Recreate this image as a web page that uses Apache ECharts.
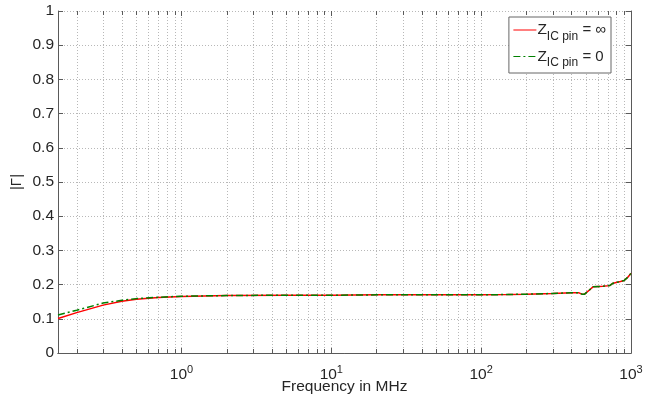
<!DOCTYPE html>
<html>
<head>
<meta charset="utf-8">
<script src="https://cdn.jsdelivr.net/npm/echarts@6/dist/echarts.min.js"></script>
<style>
  html, body { margin: 0; padding: 0; background: #fff; }
  #chart { width: 657px; height: 399px; }
</style>
</head>
<body>
<div id="chart"></div>
<script>
// Frequency samples (MHz) and reflection magnitude |Γ| for both pin terminations
const freqMHz = [0.15, 0.2, 0.3, 0.4, 0.5, 0.7, 1, 2, 5, 10, 20, 50, 100, 150, 200, 300, 400, 450, 470, 490, 540, 560, 650, 720, 760, 850, 900, 950, 1000];
const gammaOpen = [0.101, 0.118, 0.140, 0.151, 0.157, 0.162, 0.165, 0.168, 0.169, 0.169, 0.170, 0.170, 0.170, 0.171, 0.172, 0.174, 0.176, 0.176, 0.172, 0.172, 0.188, 0.194, 0.195, 0.197, 0.204, 0.209, 0.212, 0.221, 0.233];
const gammaShort = [0.111, 0.125, 0.146, 0.154, 0.159, 0.163, 0.166, 0.168, 0.169, 0.169, 0.170, 0.170, 0.170, 0.171, 0.172, 0.174, 0.176, 0.176, 0.172, 0.172, 0.188, 0.194, 0.195, 0.197, 0.204, 0.209, 0.212, 0.221, 0.233];

// Log-axis grid positions (major decades and minor steps)
const majorX = [1, 10, 100, 1000];
const minorX = [0.2, 0.3, 0.4, 0.5, 0.6, 0.7, 0.8, 0.9,
  2, 3, 4, 5, 6, 7, 8, 9,
  20, 30, 40, 50, 60, 70, 80, 90,
  200, 300, 400, 500, 600, 700, 800, 900];
const yTicks = [0, 0.1, 0.2, 0.3, 0.4, 0.5, 0.6, 0.7, 0.8, 0.9, 1];

const seriesNames = ['open', 'short'];
const FONT = '"Liberation Sans", Arial, sans-serif';
const AXIS = '#5a5a5a';
const TEXT = '#262626';

const chart = echarts.init(document.getElementById('chart'), null, { renderer: 'canvas' });

const gridMarks = majorX.map(v => [v, 1]).concat(minorX.map(v => [v, 0]));

// Dotted vertical grid line plus inward ticks on the bottom and top edges
function renderGridMark(params, api) {
  const cs = params.coordSys;
  const v = api.value(0);
  const isMajor = api.value(1) === 1;
  const x = Math.round(api.coord([v, 0])[0]) + 0.5;
  const top = cs.y, bottom = cs.y + cs.height;
  const tickLen = isMajor ? 5 : 4;
  const children = [];
  if (x < cs.x + cs.width - 1) {
    children.push({
      type: 'line', silent: true,
      shape: { x1: x, y1: top, x2: x, y2: bottom },
      style: { stroke: '#b8b8b8', lineWidth: 1, lineDash: [1, 2] }
    });
  }
  children.push({ type: 'line', silent: true, shape: { x1: x, y1: bottom, x2: x, y2: bottom - tickLen }, style: { stroke: AXIS, lineWidth: 1 } });
  children.push({ type: 'line', silent: true, shape: { x1: x, y1: top, x2: x, y2: top + tickLen }, style: { stroke: AXIS, lineWidth: 1 } });
  return { type: 'group', children };
}

function decadeLabel(value) {
  const l = Math.log10(value);
  if (Math.abs(l - Math.round(l)) < 1e-6) {
    return '{b|10}{e|' + Math.round(l) + '}';
  }
  return '';
}

const option = {
  animation: false,
  backgroundColor: '#fff',
  textStyle: { fontFamily: FONT },
  grid: { left: 58, right: 26, top: 11, bottom: 46, containLabel: false, outerBoundsMode: 'none' },
  legend: {
    data: [seriesNames[0], seriesNames[1]],
    orient: 'vertical',
    right: 46,
    top: 17,
    itemWidth: 23,
    itemHeight: 6,
    itemGap: 6,
    padding: [5, 5, 4, 4],
    backgroundColor: '#fff',
    borderColor: '#666',
    borderWidth: 1,
    borderRadius: 0,
    selectedMode: false,
    itemStyle: { opacity: 0 },
    lineStyle: { width: 1 },
    formatter: function (name) {
      const rhs = name === 'open' ? '∞' : '0';
      return '{z|Z}{s|IC pin}{q| = ' + rhs + '}';
    },
    textStyle: {
      fontFamily: FONT,
      color: TEXT,
      padding: [0, 0, 0, -4],
      rich: {
        z: { fontSize: 15.5, fontFamily: FONT, color: TEXT },
        s: { fontSize: 12, fontFamily: FONT, color: TEXT, padding: [13, 0, 0, 0] },
        q: { fontSize: 15, fontFamily: FONT, color: TEXT }
      }
    }
  },
  xAxis: [{
    type: 'log',
    logBase: 10,
    min: 0.15,
    max: 1000,
    name: 'Frequency in MHz',
    nameLocation: 'middle',
    nameGap: 26,
    nameMoveOverlap: false,
    nameTextStyle: { fontSize: 15.5, color: TEXT, fontFamily: FONT },
    axisLine: { show: true, lineStyle: { color: AXIS, width: 1 } },
    axisTick: { show: false },
    splitLine: { show: false },
    minorTick: { show: false },
    axisLabel: {
      margin: 11,
      showMinLabel: false,
      formatter: decadeLabel,
      rich: {
        b: { fontSize: 15.5, fontFamily: FONT, color: TEXT },
        e: { fontSize: 11, fontFamily: FONT, color: TEXT, padding: [0, 0, 11, 0] }
      }
    }
  }, {
    type: 'log',
    logBase: 10,
    min: 0.15,
    max: 1000,
    position: 'top',
    axisLine: { show: true, lineStyle: { color: AXIS, width: 1 } },
    axisTick: { show: false },
    axisLabel: { show: false },
    splitLine: { show: false }
  }],
  yAxis: [{
    type: 'value',
    min: 0,
    max: 1,
    interval: 0.1,
    name: '|Γ|',
    nameLocation: 'middle',
    nameGap: 34,
    nameMoveOverlap: false,
    nameTextStyle: { fontSize: 15, color: TEXT, fontFamily: FONT },
    axisLine: { show: true, lineStyle: { color: AXIS, width: 1 } },
    axisTick: { show: true, inside: true, length: 5, lineStyle: { color: AXIS } },
    splitLine: { show: true, lineStyle: { color: '#b8b8b8', type: [1, 2], width: 1 } },
    axisLabel: {
      fontSize: 15.5, color: TEXT, fontFamily: FONT, margin: 4,
      formatter: v => {
        const r = Math.round(v * 10) / 10;
        return yTicks.some(t => Math.abs(t - r) < 1e-9) ? String(r) : '';
      }
    }
  }, {
    type: 'value',
    min: 0,
    max: 1,
    interval: 0.1,
    position: 'right',
    axisLine: { show: true, lineStyle: { color: AXIS, width: 1 } },
    axisTick: { show: true, inside: true, length: 5, lineStyle: { color: AXIS } },
    axisLabel: { show: false },
    splitLine: { show: false }
  }],
  series: [{
    type: 'custom',
    name: 'grid',
    xAxisIndex: 0,
    yAxisIndex: 0,
    silent: true,
    z: 1,
    renderItem: renderGridMark,
    encode: { x: 0 },
    data: gridMarks
  }, {
    type: 'line',
    name: seriesNames[0],
    z: 3,
    showSymbol: false,
    symbol: 'none',
    color: '#ff0000',
    lineStyle: { color: '#ff0000', width: 1.5, type: 'solid' },
    data: freqMHz.map((f, i) => [f, gammaOpen[i]])
  }, {
    type: 'line',
    name: seriesNames[1],
    z: 4,
    showSymbol: false,
    symbol: 'none',
    color: '#008000',
    lineStyle: { color: '#008000', width: 1.5, type: [7, 3, 2, 3] },
    data: freqMHz.map((f, i) => [f, gammaShort[i]])
  }]
};

chart.setOption(option);
</script>
</body>
</html>
